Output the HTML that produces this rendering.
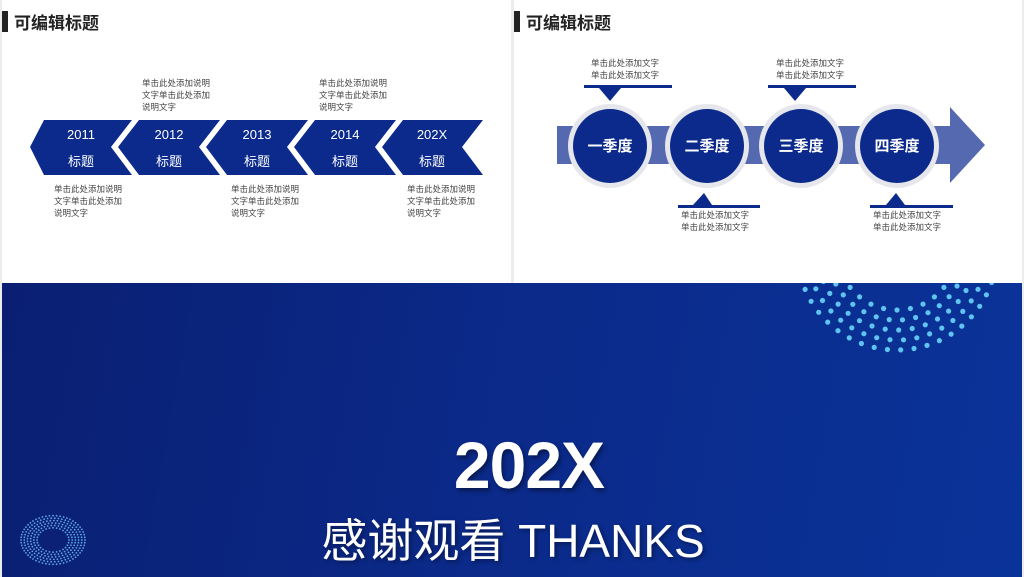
<!DOCTYPE html>
<html><head><meta charset="utf-8"><style>
body{margin:0;width:1024px;height:577px;background:#e9eded;position:relative;overflow:hidden;font-family:"Liberation Sans","Noto Sans CJK SC",sans-serif}
.p{position:absolute;background:#fff}
.t{position:absolute;font-size:17px;font-weight:bold;color:#222;font-family:"Liberation Sans","Noto Sans CJK SC",sans-serif}
.bar{position:absolute;width:6px;height:21px;background:#222}
.s{position:absolute;font-size:8.5px;line-height:12px;color:#444;white-space:nowrap}
</style></head><body>
<div class="p" style="left:2px;top:0;width:509px;height:283px"></div>
<div class="p" style="left:514px;top:0;width:508px;height:283px"></div>
<div class="bar" style="left:2px;top:11px"></div>
<div class="t" style="left:14px;top:9px">可编辑标题</div>
<div class="bar" style="left:514px;top:11px"></div>
<div class="t" style="left:526px;top:9px">可编辑标题</div>

<svg style="position:absolute;left:0;top:0" width="1024" height="283">
<g fill="#0b2a8c">
<polygon points="30,147 44,120 132,120 111,147 132,175 44,175"/>
<polygon points="118,147 139,120 220,120 199,147 220,175 139,175"/>
<polygon points="206,147 227,120 308,120 287,147 308,175 227,175"/>
<polygon points="294,147 315,120 396,120 375,147 396,175 315,175"/>
<polygon points="382,147 403,120 483,120 462,147 483,175 403,175"/>
</g>
<g fill="#fff" font-size="13" text-anchor="middle" font-family="Liberation Sans,Noto Sans CJK SC,sans-serif">
<text x="81" y="139">2011</text><text x="81" y="166">标题</text>
<text x="169" y="139">2012</text><text x="169" y="166">标题</text>
<text x="257" y="139">2013</text><text x="257" y="166">标题</text>
<text x="345" y="139">2014</text><text x="345" y="166">标题</text>
<text x="432" y="139">202X</text><text x="432" y="166">标题</text>
</g>
<rect x="557" y="126" width="395" height="38" fill="#5469b0"/>
<polygon points="950,107 985,145 950,183" fill="#5469b0"/>
<g fill="#e6e7ec"><circle cx="610" cy="146" r="42"/><circle cx="707" cy="146" r="42"/><circle cx="801" cy="146" r="42"/><circle cx="897" cy="146" r="42"/></g>
<g fill="#0b2a8c"><circle cx="610" cy="146" r="37"/><circle cx="707" cy="146" r="37"/><circle cx="801" cy="146" r="37"/><circle cx="897" cy="146" r="37"/></g>
<g fill="#fff" font-size="15" font-weight="bold" text-anchor="middle" font-family="Liberation Sans,Noto Sans CJK SC,sans-serif">
<text x="610" y="151">一季度</text><text x="707" y="151">二季度</text><text x="801" y="151">三季度</text><text x="897" y="151">四季度</text>
</g>
<g fill="#0b2a8c">
<rect x="584" y="85" width="88" height="3"/><polygon points="599,88 621,88 610,101"/>
<rect x="768" y="85" width="88" height="3"/><polygon points="784,88 806,88 795,101"/>
<rect x="678" y="205" width="82" height="3"/><polygon points="693,205 712,205 704,193"/>
<rect x="870" y="205" width="83" height="3"/><polygon points="886,205 905,205 896,193"/>
</g>
</svg>
<div class="s" style="left:142px;top:77px">单击此处添加说明<br>文字单击此处添加<br>说明文字</div>
<div class="s" style="left:319px;top:77px">单击此处添加说明<br>文字单击此处添加<br>说明文字</div>
<div class="s" style="left:54px;top:183px">单击此处添加说明<br>文字单击此处添加<br>说明文字</div>
<div class="s" style="left:231px;top:183px">单击此处添加说明<br>文字单击此处添加<br>说明文字</div>
<div class="s" style="left:407px;top:183px">单击此处添加说明<br>文字单击此处添加<br>说明文字</div>
<div class="s" style="left:591px;top:57px">单击此处添加文字<br>单击此处添加文字</div>
<div class="s" style="left:776px;top:57px">单击此处添加文字<br>单击此处添加文字</div>
<div class="s" style="left:681px;top:209px">单击此处添加文字<br>单击此处添加文字</div>
<div class="s" style="left:873px;top:209px">单击此处添加文字<br>单击此处添加文字</div>

<div style="position:absolute;left:2px;top:283px;width:1020px;height:294px;background:linear-gradient(100deg,#0a1f72 0%,#0b2a8a 50%,#0a3399 100%);overflow:hidden">
<svg id="dots" width="1020" height="294" style="position:absolute;left:0;top:0"></svg>
<div style="position:absolute;left:0;width:1054px;top:142px;text-align:center;color:#fff;font-size:66px;font-weight:bold;line-height:80px;letter-spacing:-1px;text-shadow:2px 3px 4px rgba(0,0,0,.4)">202X</div>
<div style="position:absolute;left:0;width:1022px;top:228px;text-align:center;color:#fff;font-size:46px;line-height:60px;text-shadow:2px 2px 4px rgba(0,0,0,.4)">感谢观看 THANKS</div>
</div>
<script>
var s=document.getElementById('dots'),h='';
var cx=895,cy=-33;
for(var k=0;k<5;k++){var r=60+k*10;var n=Math.round(2*Math.PI*r/13.5);for(var i=0;i<n;i++){var a=2*Math.PI*i/n+k*0.35;var x=cx+r*Math.cos(a),y=cy+r*Math.sin(a);if(y>-3)h+='<circle cx="'+x.toFixed(1)+'" cy="'+y.toFixed(1)+'" r="2.6" fill="#5fc4ef"/>';}}
for(var k=0;k<6;k++){var r=16+k*3.2;var n=Math.round(2*Math.PI*r/3.6);for(var i=0;i<n;i++){var a=2*Math.PI*i/n;h+='<circle cx="'+(51+r*Math.cos(a)).toFixed(1)+'" cy="'+(257+r*0.76*Math.sin(a)).toFixed(1)+'" r="0.9" fill="#5fa6e8"/>';}}
s.innerHTML=h;
</script>
</body></html>
